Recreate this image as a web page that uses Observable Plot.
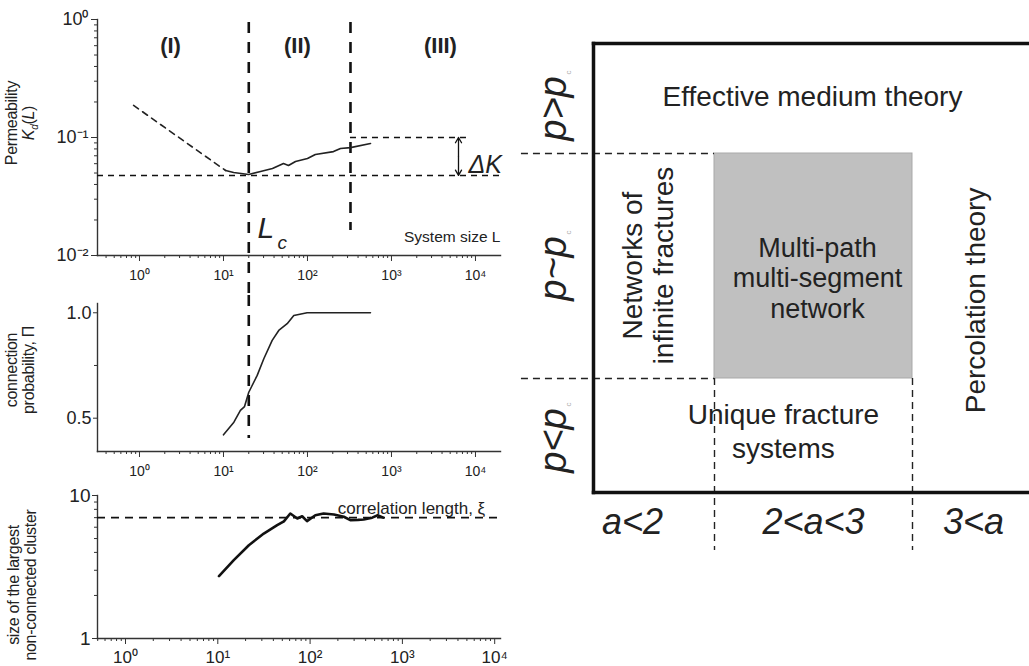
<!DOCTYPE html>
<html><head><meta charset="utf-8">
<script src="https://cdn.jsdelivr.net/npm/d3@7"></script>
<script src="https://cdn.jsdelivr.net/npm/@observablehq/plot@0.6"></script>
<style>
body{margin:0;background:#fff;}
#root{position:relative;width:1029px;height:666px;overflow:hidden;font-family:"Liberation Sans",Arial,sans-serif;background:#fff;}
.panel{position:absolute;}
.ylab{position:absolute;transform:rotate(-90deg);transform-origin:center;text-align:center;font-size:16px;line-height:17px;white-space:nowrap;color:#222;font-family:"Liberation Sans",Arial,sans-serif;letter-spacing:-0.3px;}
.ylab i{font-style:italic;}
</style></head><body><div id="root"></div>
<script>
// ---------- data ----------
// Panel 1: permeability vs system size
const permDashL = [0.85, 10.6];
const permDashK = [0.187, 0.0525];
const permL = [10.6, 13.2, 19.9, 27.6, 38.3, 51.8, 59.4, 72, 100, 124, 204, 247, 325, 562];
const permK = [0.0525, 0.0505, 0.0486, 0.0515, 0.0546, 0.0602, 0.0579, 0.0626, 0.0664, 0.0718, 0.076, 0.0807, 0.0822, 0.0889];
const Lc = 20;              // critical size
const L3 = 325;             // start of regime III
const Kmin = 0.0477;        // horizontal reference
const Kup = 0.1;            // upper ΔK reference
const regionLabels = ["(I)", "(II)", "(III)"];
const regionX = [2.34, 76, 3830];

// Panel 2: connection probability
const connL = [10, 13.3, 15.9, 17.8, 20, 25.2, 30.2, 38, 45.5, 57.3, 68.7, 99, 200, 562];
const connP = [0.421, 0.481, 0.537, 0.555, 0.623, 0.703, 0.782, 0.869, 0.916, 0.948, 0.987, 1.0, 1.0, 1.0];

// Panel 3: size of the largest non-connected cluster
const clusL = [10.3, 14.9, 21.7, 31.5, 44, 52, 61, 72.7, 82, 92.6, 114, 140, 181, 232, 273, 330, 381, 471, 540, 620];
const clusS = [2.73, 3.53, 4.49, 5.42, 6.2, 6.6, 7.48, 6.9, 7.16, 6.62, 7.28, 7.48, 7.36, 7.1, 6.72, 6.75, 6.8, 7.0, 7.28, 7.0];
const xi = 7.0;

// Tick labels
const xMajor = [1, 10, 100, 1000, 10000];
const xMajorLabels = ["10⁰", "10¹", "10²", "10³", "10⁴"];
const kMajor = [0.01, 0.1, 1];
const kMajorLabels = ["10⁻²", "10⁻¹", "10⁰"];
const pMajor = [0.5, 1.0];
const pMajorLabels = ["0.5", "1.0"];
const pMinor = [0.75];
const sMajor = [1, 10];
const sMajorLabels = ["1", "10"];
const minorMult = [2, 3, 4, 5, 6, 7, 8, 9];

// Right diagram
const aBounds = [2, 3];          // a = 2, a = 3
const pBounds = [0, 1];          // p ~ pc band
const aLabels = ["a<2", "2<a<3", "3<a"];
const aLabelX = [1.586, 2.5, 3.308];
const pLabels = ["p>p", "p~p", "p<p"];
const pLabelY = [1.2, 0.489, -0.276];

// ---------- helpers ----------
const FONT = '"Liberation Sans", Arial, sans-serif';
const INK = "#222";
function minorTicks(domain, lo, hi) {
  const out = [];
  for (let e = lo; e <= hi; e++) for (const m of minorMult) {
    const v = m * Math.pow(10, e);
    if (v >= domain[0] && v <= domain[1]) out.push(v);
  }
  return out;
}
const root = document.getElementById("root");
function place(svg, left, top) {
  svg.classList.add("panel");
  svg.style.left = left + "px";
  svg.style.top = top + "px";
  root.appendChild(svg);
}
function style(fs) {
  return {background: "transparent", overflow: "visible", fontFamily: FONT, color: INK, fontSize: fs + "px"};
}

// ---------- Panel 1 ----------
const x1Dom = [Math.pow(10, -0.5), Math.pow(10, 4.298)];
const y1Dom = [0.01, 1];
const p1 = Plot.plot({
  width: 510, height: 295, marginLeft: 97, marginRight: 10, marginTop: 19, marginBottom: 40,
  style: style(14),
  x: {type: "log", domain: x1Dom, label: null},
  y: {type: "log", domain: y1Dom, label: null},
  marks: [
    Plot.axisX({ticks: minorTicks(x1Dom, -1, 4), tickSize: 3, tickFormat: () => "", label: null, stroke: "#333"}),
    Plot.axisX({ticks: xMajor, tickSize: 6, tickPadding: 9, tickFormat: d => xMajorLabels[xMajor.indexOf(d)], fontSize: 14, label: null, stroke: "#333"}),
    Plot.axisY({ticks: minorTicks(y1Dom, -2, -1), tickSize: 3, tickFormat: () => "", label: null, stroke: "#333"}),
    Plot.axisY({ticks: kMajor, tickSize: 6, tickPadding: 3, tickFormat: d => kMajorLabels[kMajor.indexOf(d)], fontSize: 18, label: null, stroke: "#333"}),
    Plot.frame({anchor: "left", stroke: "#333", strokeWidth: 1.4}),
    Plot.frame({anchor: "bottom", stroke: "#333", strokeWidth: 1.4}),
    // reference lines
    Plot.ruleY([Kmin], {stroke: "#111", strokeWidth: 1.6, strokeDasharray: "6,5"}),
    Plot.ruleY([Kup], {x1: L3, x2: 8750, stroke: "#111", strokeWidth: 1.6, strokeDasharray: "6,5"}),
    Plot.ruleX([Lc], {y1: 0.943, y2: 0.00458, stroke: "#111", strokeWidth: 2.6, strokeDasharray: "11,9"}),
    Plot.ruleX([L3], {y1: 0.943, y2: 0.0163, stroke: "#111", strokeWidth: 2.6, strokeDasharray: "11,9"}),
    // curves
    Plot.line(permDashL.map((L, i) => [L, permDashK[i]]), {stroke: "#222", strokeWidth: 1.6, strokeDasharray: "6,5"}),
    Plot.line(permL.map((L, i) => [L, permK[i]]), {stroke: "#222", strokeWidth: 1.7}),
    // ΔK double arrow
    Plot.arrow([Kup, Kmin], {x1: 6280, x2: 6280, y1: Math.sqrt(Kup * Kmin), y2: d => d, stroke: "#111", strokeWidth: 1.3, headLength: 7}),
    Plot.text(["ΔK"], {x: 8260, y: 0.058, textAnchor: "start", fontSize: 25, fontStyle: "italic", fill: INK}),
    // labels
    Plot.text(regionLabels, {x: (d, i) => regionX[i], y: 0.6, fontSize: 22, fontWeight: "bold", fill: INK}),
    Plot.text(["L"], {x: 25.4, y: 0.0169, textAnchor: "start", fontSize: 30, fontStyle: "italic", fill: INK}),
    Plot.text(["c"], {x: 44, y: 0.0127, textAnchor: "start", fontSize: 19, fontStyle: "italic", fill: INK}),
    Plot.text(["System size L"], {x: x1Dom[1], y: 0.0142, textAnchor: "end", fontSize: 15.5, fill: INK})
  ]
});
place(p1, 0, 0);

// ---------- Panel 2 ----------
const y2Dom = [0.342, 1.044];
const p2 = Plot.plot({
  width: 510, height: 190, marginLeft: 97, marginRight: 10, marginTop: 8, marginBottom: 34,
  style: style(14),
  x: {type: "log", domain: x1Dom, label: null},
  y: {domain: y2Dom, label: null},
  marks: [
    Plot.axisX({ticks: minorTicks(x1Dom, -1, 4), tickSize: 3, tickFormat: () => "", label: null, stroke: "#333"}),
    Plot.axisX({ticks: xMajor, tickSize: 6, tickPadding: 9, tickFormat: d => xMajorLabels[xMajor.indexOf(d)], fontSize: 14, label: null, stroke: "#333"}),
    Plot.axisY({ticks: pMinor, tickSize: 3, tickFormat: () => "", label: null, stroke: "#333"}),
    Plot.axisY({ticks: pMajor, tickSize: 4, tickPadding: 2, tickFormat: d => pMajorLabels[pMajor.indexOf(d)], fontSize: 18, label: null, stroke: "#333"}),
    Plot.frame({anchor: "left", stroke: "#333", strokeWidth: 1.4}),
    Plot.frame({anchor: "bottom", stroke: "#333", strokeWidth: 1.4}),
    Plot.ruleX([Lc], {y1: 1.082, y2: 0.404, stroke: "#111", strokeWidth: 2.6, strokeDasharray: "11,9"}),
    Plot.line(connL.map((L, i) => [L, connP[i]]), {stroke: "#222", strokeWidth: 1.6})
  ]
});
place(p2, 0, 295);

// ---------- Panel 3 ----------
const x3Dom = [0.4973, 11560];
const y3Dom = [1, 10];
const p3 = Plot.plot({
  width: 510, height: 181, marginLeft: 97, marginRight: 10, marginTop: 10, marginBottom: 28,
  style: style(17),
  x: {type: "log", domain: x3Dom, label: null},
  y: {type: "log", domain: y3Dom, label: null},
  marks: [
    Plot.axisX({ticks: minorTicks(x3Dom, -1, 4), tickSize: 3, tickFormat: () => "", label: null, stroke: "#333"}),
    Plot.axisX({ticks: xMajor, tickSize: 6, tickPadding: 6, tickFormat: d => xMajorLabels[xMajor.indexOf(d)], fontSize: 17, label: null, stroke: "#333"}),
    Plot.axisY({ticks: minorTicks(y3Dom, 0, 0), tickSize: 3, tickFormat: () => "", label: null, stroke: "#333"}),
    Plot.axisY({ticks: sMajor, tickSize: 5, tickPadding: 2, tickFormat: d => sMajorLabels[sMajor.indexOf(d)], fontSize: 19, label: null, stroke: "#333"}),
    Plot.frame({anchor: "left", stroke: "#333", strokeWidth: 1.4}),
    Plot.frame({anchor: "bottom", stroke: "#333", strokeWidth: 1.4}),
    Plot.ruleY([xi], {stroke: "#111", strokeWidth: 1.6, strokeDasharray: "8,6"}),
    Plot.line(clusL.map((L, i) => [L, clusS[i]]), {stroke: "#111", strokeWidth: 2.6}),
    Plot.text(["correlation length, ξ"], {x: 7900, y: 8.1, textAnchor: "end", fontSize: 17, fill: INK})
  ]
});
place(p3, 0, 485);

// ---------- Axis titles (HTML text) ----------
function ylab(html, cx, cy, w) {
  const d = document.createElement("div");
  d.className = "ylab";
  d.innerHTML = html;
  d.style.width = w + "px";
  d.style.height = "34px";
  d.style.left = (cx - w / 2) + "px";
  d.style.top = (cy - 17) + "px";
  root.appendChild(d);
}
ylab("Permeability<br><i>K<sub style='font-size:10px'>d</sub></i>(<i>L</i>)", 20, 123, 130);
ylab("connection<br>probability, Π", 20, 370, 130);
ylab("size of the largest<br>non-connected cluster", 22, 585, 170);

// ---------- Right diagram ----------
const ax = [1.3889, 3.5909];
const ay = [-0.5067, 1.4889];
const TXT = 28;
const p4 = Plot.plot({
  width: 529, height: 666, marginLeft: 93, marginRight: 0, marginTop: 43, marginBottom: 174,
  style: style(TXT),
  x: {domain: ax, axis: null},
  y: {domain: ay, axis: null},
  marks: [
    Plot.rect([0], {x1: aBounds[0], x2: aBounds[1], y1: pBounds[0], y2: pBounds[1], fill: "#c0c0c0", stroke: "#a9a9a9", strokeWidth: 1}),
    Plot.ruleY(pBounds, {x1: 1.025, x2: aBounds[0], stroke: "#222", strokeWidth: 1.4, strokeDasharray: "7,5"}),
    Plot.ruleX(aBounds, {y1: pBounds[0], y2: -0.764, stroke: "#222", strokeWidth: 1.4, strokeDasharray: "7,5"}),
    Plot.frame({anchor: "top", stroke: "#111", strokeWidth: 3.5}),
    Plot.frame({anchor: "left", stroke: "#111", strokeWidth: 3.5}),
    Plot.frame({anchor: "bottom", stroke: "#111", strokeWidth: 3.5}),
    Plot.text(["Effective medium theory"], {x: 2.495, y: 1.249, fontSize: TXT, fill: INK}),
    Plot.text(["Multi-path\nmulti-segment\nnetwork"], {x: 2.52, y: 0.449, fontSize: 27, lineHeight: 1.13, fill: INK}),
    Plot.text(["Networks of\ninfinite fractures"], {x: 1.664, y: 0.502, rotate: -90, fontSize: TXT, lineHeight: 1.1, fill: INK}),
    Plot.text(["Percolation theory"], {x: 3.32, y: 0.347, rotate: -90, fontSize: TXT, fill: INK}),
    Plot.text(["Unique fracture\nsystems"], {x: 2.348, y: -0.231, fontSize: TXT, lineHeight: 1.2, fill: INK}),
    Plot.text(aLabels, {x: (d, i) => aLabelX[i], y: -0.64, fontSize: 36, fontStyle: "italic", fill: INK}),
    Plot.text(pLabels, {x: 1.187, y: (d, i) => pLabelY[i], rotate: -90, fontSize: 38, fontStyle: "italic", fill: INK}),
    Plot.text(pLabels, {x: 1.187, y: (d, i) => pLabelY[i], text: () => "c", dx: 15, dy: -36, rotate: -90, fontSize: 8, fill: "#aaa"})
  ]
});
place(p4, 500, 0);
</script></body></html>
